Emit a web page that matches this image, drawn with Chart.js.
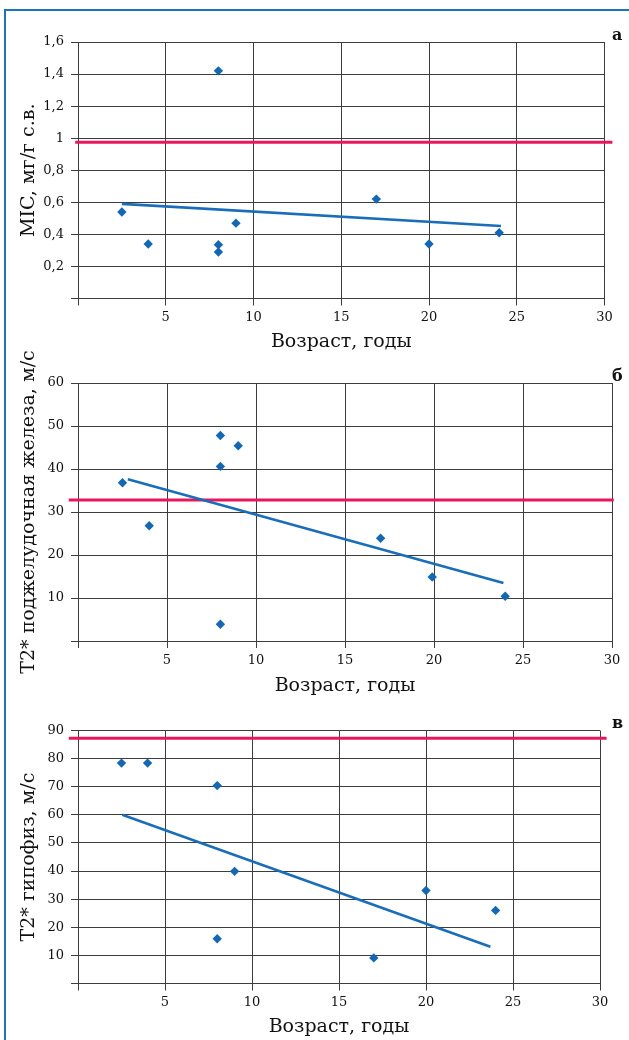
<!DOCTYPE html>
<html>
<head>
<meta charset="utf-8">
<script src="https://cdn.jsdelivr.net/npm/chart.js@4.4.1/dist/chart.umd.min.js"></script>
<style>
  html, body { margin: 0; padding: 0; background: #fff; }
  body { width: 629px; height: 1040px; position: relative; overflow: hidden; }
  #frame { position: absolute; left: 4px; top: 9px; width: 700px; height: 1100px;
           border-left: 2.5px solid #1b75bb; border-top: 2.5px solid #1b75bb; }
  canvas { position: absolute; left: 0; }
</style>
</head>
<body>
<div id="frame"></div>
<canvas id="cA" width="629" height="360" style="top:0px"></canvas>
<canvas id="cB" width="629" height="370" style="top:330px"></canvas>
<canvas id="cC" width="629" height="340" style="top:700px"></canvas>
<script>
// ---------- data ----------
const xTickLabels = ['', '5', '10', '15', '20', '25', '30'];
const xTitle = 'Возраст, годы';

// Panel а: MIC
const ageA = [2.5, 4, 8, 8, 8, 9, 17, 20, 24];
const micA = [0.54, 0.34, 1.42, 0.335, 0.29, 0.47, 0.62, 0.34, 0.41];
const trendAx = [2.5, 24.1];
const trendAy = [0.59, 0.452];
const refA = 0.975;
const refAx = [-0.16, 30.45];
const yTicksA = ['', '0,2', '0,4', '0,6', '0,8', '1', '1,2', '1,4', '1,6'];
const yTitleA = 'MIC, мг/г с.в.';

// Panel б: T2* pancreas
const ageB = [2.5, 4, 8, 8, 8, 9, 17, 19.9, 24];
const t2B = [36.8, 26.8, 47.8, 40.6, 3.9, 45.4, 23.9, 14.9, 10.4];
const trendBx = [2.8, 23.9];
const trendBy = [37.6, 13.5];
const refB = 32.8;
const refBx = [-0.52, 30.1];
const yTicksB = ['', '10', '20', '30', '40', '50', '60'];
const yTitleB = 'T2* поджелудочная железа, м/с';

// Panel в: T2* pituitary
const ageC = [2.5, 4, 8, 8, 9, 17, 20, 24];
const t2C = [78.4, 78.4, 70.4, 15.9, 39.9, 9.1, 33.1, 26.0];
const trendCx = [2.54, 23.7];
const trendCy = [60.0, 13.1];
const refC = 87.2;
const refCx = [-0.53, 30.38];
const yTicksC = ['', '10', '20', '30', '40', '50', '60', '70', '80', '90'];
const yTitleC = 'T2* гипофиз, м/с';

const panelLetters = ['а', 'б', 'в'];

// ---------- styling ----------
const BLUE = '#1467b2';
const RED = '#e8175d';
const GRID = '#3c3c3c';
const TEXT = '#111';
Chart.defaults.font.family = '"DejaVu Serif", serif';
Chart.defaults.color = TEXT;

const letterPlugin = {
  id: 'panelLetter',
  afterDraw(chart, args, opts) {
    const ctx = chart.ctx;
    ctx.save();
    ctx.font = 'bold 16px "DejaVu Serif", serif';
    ctx.fillStyle = '#111';
    ctx.textAlign = 'left';
    ctx.textBaseline = 'alphabetic';
    ctx.fillText(opts.text, 612, chart.chartArea.top - 2.5);
    ctx.restore();
  }
};

function pts(xs, ys) { return xs.map((x, i) => ({ x: x, y: ys[i] })); }

function makeChart(id, cfg) {
  return new Chart(document.getElementById(id), {
    type: 'scatter',
    data: {
      datasets: [
        { data: pts(cfg.ax, cfg.ay), pointStyle: 'rectRot', pointRadius: 4.7,
          backgroundColor: BLUE, borderColor: BLUE, borderWidth: 0 },
        { data: pts(cfg.tx, cfg.ty), showLine: true, pointRadius: 0,
          borderColor: '#1a6db8', borderWidth: 2.6, fill: false },
        { data: pts(cfg.rx, [cfg.ref, cfg.ref]), showLine: true, pointRadius: 0,
          borderColor: RED, borderWidth: 3, fill: false, clip: false }
      ]
    },
    options: {
      responsive: false,
      animation: false,
      events: [],
      layout: { padding: cfg.pad },
      plugins: { legend: { display: false }, tooltip: { enabled: false },
                 panelLetter: { text: cfg.letter } },
      scales: {
        x: {
          type: 'linear', min: 0, max: 30,
          afterFit: s => { s.height = cfg.xh; },
          ticks: { stepSize: 5, padding: 4.5, color: TEXT, font: { size: 13 },
                   maxRotation: 0, autoSkip: false,
                   callback: (v, i) => xTickLabels[i] },
          grid: { color: GRID, lineWidth: 1, tickLength: 7 },
          border: { color: GRID, width: 1 },
          title: { display: true, text: xTitle, color: TEXT, font: { size: 19 },
                   padding: { top: 0, bottom: cfg.xtp } }
        },
        y: {
          type: 'linear', min: 0, max: cfg.ymax,
          afterFit: s => { s.width = 70; },
          ticks: { stepSize: cfg.ystep, padding: 7, color: TEXT, font: { size: 13 },
                   autoSkip: false, callback: (v, i) => cfg.yt[i] },
          grid: { color: GRID, lineWidth: 1, tickLength: 7 },
          border: { color: GRID, width: 1 },
          title: { display: true, text: cfg.ytitle, color: TEXT, font: { size: 19 },
                   padding: { top: 10, bottom: 0 } }
        }
      }
    },
    plugins: [letterPlugin]
  });
}

makeChart('cA', { ax: ageA, ay: micA, tx: trendAx, ty: trendAy, rx: refAx, ref: refA,
  ymax: 1.6, ystep: 0.2, yt: yTicksA, ytitle: yTitleA, letter: panelLetters[0],
  pad: { top: 42, right: 24.5, bottom: 0, left: 8 }, xh: 61.5, xtp: 6.6 });

makeChart('cB', { ax: ageB, ay: t2B, tx: trendBx, ty: trendBy, rx: refBx, ref: refB,
  ymax: 60, ystep: 10, yt: yTicksB, ytitle: yTitleB, letter: panelLetters[1],
  pad: { top: 53, right: 17, bottom: 0, left: 8 }, xh: 59, xtp: 2.6 });

makeChart('cC', { ax: ageC, ay: t2C, tx: trendCx, ty: trendCy, rx: refCx, ref: refC,
  ymax: 90, ystep: 10, yt: yTicksC, ytitle: yTitleC, letter: panelLetters[2],
  pad: { top: 30.5, right: 29, bottom: 0, left: 8 }, xh: 56.5, xtp: 1.6 });
</script>
</body>
</html>
